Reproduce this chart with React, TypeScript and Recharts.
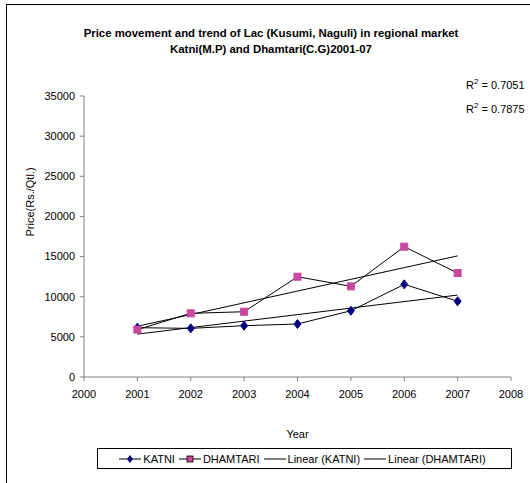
import React from 'react';
import { ComposedChart, Line, XAxis, YAxis } from 'recharts';

const years = [2001, 2002, 2003, 2004, 2005, 2006, 2007];
const katni = [6140, 6060, 6390, 6600, 8250, 11540, 9430];
const dhamtari = [5900, 7930, 8130, 12490, 11290, 16230, 12950];
const xTicks = [2000, 2001, 2002, 2003, 2004, 2005, 2006, 2007, 2008];
const yTicks = [0, 5000, 10000, 15000, 20000, 25000, 30000, 35000];
const rSquared = ['0.7051', '0.7875'];

// least squares trend, like the spreadsheet's linear trendline
const trend = (ys: number[]) => {
  const n = ys.length;
  const mx = years.reduce((a, b) => a + b, 0) / n;
  const my = ys.reduce((a, b) => a + b, 0) / n;
  let num = 0;
  let den = 0;
  years.forEach((x, i) => {
    num += (x - mx) * (ys[i] - my);
    den += (x - mx) * (x - mx);
  });
  const slope = num / den;
  return years.map((x) => my + slope * (x - mx));
};

const katniTrend = trend(katni);
const dhamtariTrend = trend(dhamtari);

const data = years.map((year, i) => ({
  year,
  katni: katni[i],
  dhamtari: dhamtari[i],
  katniTrend: katniTrend[i],
  dhamtariTrend: dhamtariTrend[i],
}));

const font = '"Liberation Sans", Arial, sans-serif';

const Diamond = (props: any) => {
  const { cx, cy } = props;
  if (cx == null || cy == null) return null;
  return <path d={`M${cx},${cy - 4.5}L${cx + 3.5},${cy}L${cx},${cy + 4.5}L${cx - 3.5},${cy}Z`} fill="#000080" stroke="#000080" />;
};

const Square = (props: any) => {
  const { cx, cy } = props;
  if (cx == null || cy == null) return null;
  return <rect x={cx - 3.5} y={cy - 3.5} width={7} height={7} fill="#C8479F" stroke="#C8479F" />;
};

const LegendBox = () => {
  const item = (label: string, marker: React.ReactNode) => (
    <span style={{ display: 'inline-flex', alignItems: 'center', marginRight: 4 }}>
      <svg width={22} height={10}>
        <line x1={0} y1={5} x2={22} y2={5} stroke="#000" strokeWidth={1} />
        {marker}
      </svg>
      <span style={{ marginLeft: 2 }}>{label}</span>
    </span>
  );
  return (
    <div
      style={{
        position: 'absolute',
        left: 97,
        top: 448,
        width: 415,
        height: 21,
        border: '1px solid #000',
        background: '#fff',
        fontFamily: font,
        fontSize: 11,
        display: 'flex',
        alignItems: 'center',
        justifyContent: 'center',
        boxSizing: 'border-box',
        whiteSpace: 'nowrap',
      }}
    >
      {item('KATNI', <path d="M11,1L14,5L11,9L8,5Z" fill="#000080" />)}
      {item('DHAMTARI', <rect x={8} y={2} width={6} height={6} fill="#C8479F" stroke="#000" strokeWidth={0.8} />)}
      {item('Linear (KATNI)', null)}
      {item('Linear (DHAMTARI)', null)}
    </div>
  );
};

const App = () => {
  return (
    <div style={{ position: 'absolute', left: 0, top: 0, width: 530, height: 483, overflow: 'hidden', background: '#fff' }}>
      <div style={{ position: 'absolute', left: 6, top: 4, width: 600, height: 600, border: '1px solid #000' }} />
      <div
        style={{
          position: 'absolute',
          left: 0,
          top: 25,
          width: 542,
          textAlign: 'center',
          fontFamily: font,
          fontWeight: 'bold',
          fontSize: 11.4,
          lineHeight: '16px',
        }}
      >
        Price movement and trend of Lac (Kusumi, Naguli) in regional market
        <br />
        Katni(M.P) and Dhamtari(C.G)2001-07
      </div>
      {rSquared.map((r, i) => (
        <div
          key={r}
          style={{ position: 'absolute', left: 466, top: 77 + i * 24, fontFamily: font, fontSize: 11, whiteSpace: 'nowrap' }}
        >
          R<sup style={{ fontSize: 8 }}>2</sup> = {r}
        </div>
      ))}
      <div style={{ position: 'absolute', left: 0, top: 0 }}>
        <ComposedChart width={530} height={483} data={data} margin={{ top: 96, right: 19, bottom: 46, left: 0 }}>
          <XAxis
            dataKey="year"
            type="number"
            domain={[2000, 2008]}
            ticks={xTicks}
            interval={0}
            stroke="#808080"
            tick={{ fill: '#000', fontSize: 11, fontFamily: font }}
            tickLine={{ stroke: '#808080' }}
            tickSize={4}
            tickMargin={9}
            height={60}
            label={{ value: 'Year', position: 'insideTop', offset: 53, fill: '#000', fontSize: 11, fontFamily: font }}
          />
          <YAxis
            type="number"
            domain={[0, 35000]}
            ticks={yTicks}
            interval={0}
            width={84}
            stroke="#808080"
            tick={{ fill: '#000', fontSize: 11, fontFamily: font }}
            tickLine={{ stroke: '#808080' }}
            tickSize={4}
            tickMargin={5}
            label={{ value: 'Price(Rs./Qtl.)', angle: -90, position: 'insideLeft', offset: 30, fill: '#000', fontSize: 11, fontFamily: font }}
          />
          <Line dataKey="katniTrend" stroke="#000" strokeWidth={1} dot={false} isAnimationActive={false} />
          <Line dataKey="dhamtariTrend" stroke="#000" strokeWidth={1} dot={false} isAnimationActive={false} />
          <Line dataKey="katni" stroke="#000" strokeWidth={1} dot={<Diamond />} isAnimationActive={false} />
          <Line dataKey="dhamtari" stroke="#000" strokeWidth={1} dot={<Square />} isAnimationActive={false} />
        </ComposedChart>
      </div>
      <LegendBox />
    </div>
  );
};

export default App;
